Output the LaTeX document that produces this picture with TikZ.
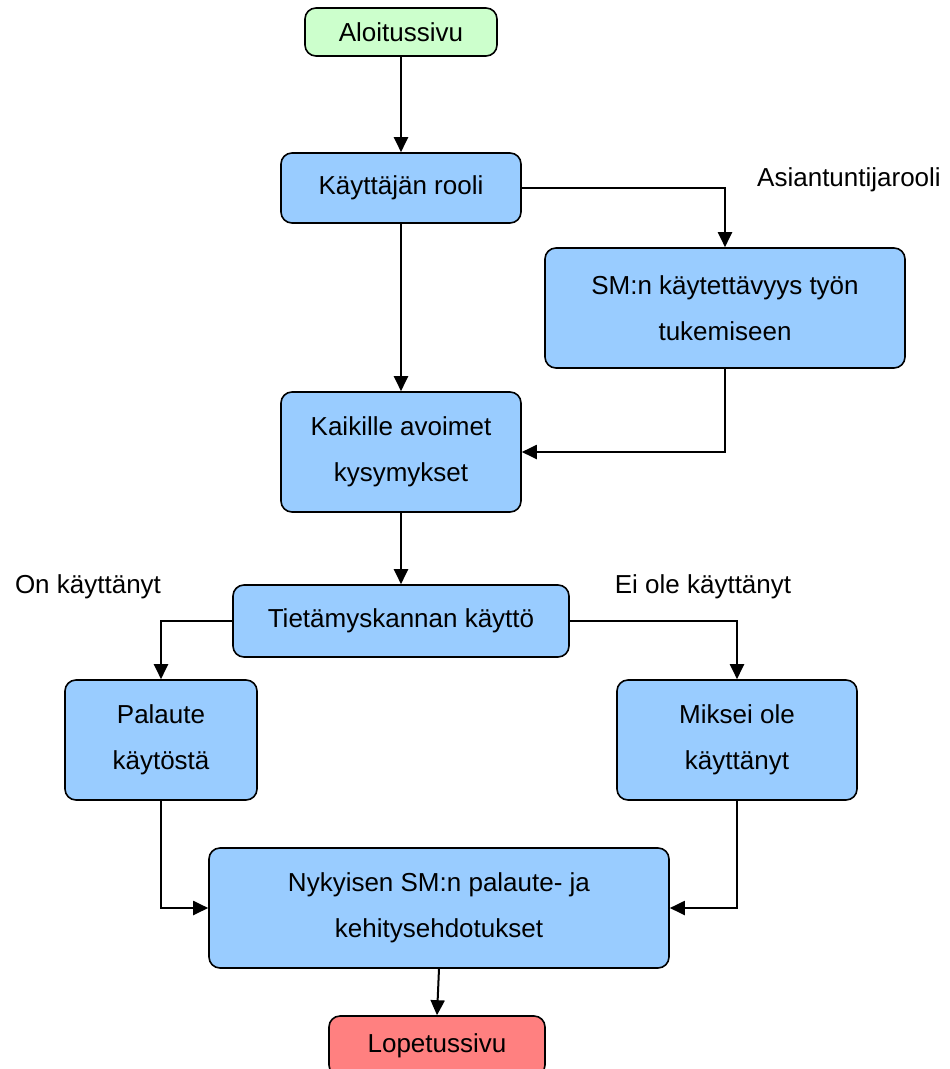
\documentclass[tikz,border=0pt]{standalone}
\usepackage{fontspec}
\setmainfont{Liberation Sans}
\usetikzlibrary{arrows.meta,positioning}
\definecolor{boxblue}{HTML}{99CCFF}
\definecolor{boxgreen}{HTML}{CCFFCC}
\definecolor{boxred}{HTML}{FF8080}
\begin{document}
\begin{tikzpicture}[x=1pt,y=-1pt,box/.style={draw,line width=1.6pt,rounded corners=11pt,fill=boxblue,align=center,font=\fontsize{26}{46}\selectfont,inner sep=0pt},lbl/.style={font=\fontsize{26}{30}\selectfont,inner sep=0pt},>={Triangle[length=15pt,width=14pt]}]
\useasboundingbox (0,0) rectangle (950,1069);
\node[box,fill=boxgreen,minimum width=192pt,minimum height=48pt] (start) at (401,32) {Aloitussivu};
\node[box,minimum width=240pt,minimum height=70pt] (rooli) at (401,188) {Käyttäjän rooli};
\node[box,minimum width=360pt,minimum height=120pt] (smn) at (725,308) {SM:n käytettävyys työn\\tukemiseen};
\node[box,minimum width=240pt,minimum height=120pt] (kaikille) at (401,452) {Kaikille avoimet\\kysymykset};
\node[box,minimum width=336pt,minimum height=72pt] (tieto) at (401,621) {Tietämyskannan käyttö};
\node[box,minimum width=192pt,minimum height=120pt] (palaute) at (161,740) {Palaute\\käytöstä};
\node[box,minimum width=240pt,minimum height=120pt] (miksei) at (737,740) {Miksei ole\\käyttänyt};
\node[box,minimum width=460pt,minimum height=120pt] (nyk) at (439,908) {Nykyisen SM:n palaute- ja\\kehitysehdotukset};
\node[box,fill=boxred,minimum width=216pt,minimum height=60pt] (loppu) at (437,1046) {Lopetussivu};
\node[lbl] (asiantuntija) at (849,180) {Asiantuntijarooli};
\node[lbl] (onkaytt) at (88,587) {On käyttänyt};
\node[lbl] (eikaytt) at (703,587) {Ei ole käyttänyt};
\begin{scope}[line width=2pt]
\draw[->] (start)--(rooli);
\draw[->] (rooli.east)-|(smn.north);
\draw[->] (rooli)--(kaikille);
\draw[->] (smn.south)|-(kaikille.east);
\draw[->] (kaikille)--(tieto);
\draw[->] (tieto.west)-|(palaute.north);
\draw[->] (tieto.east)-|(miksei.north);
\draw[->] (palaute.south)|-(nyk.west);
\draw[->] (miksei.south)|-(nyk.east);
\draw[->] (nyk.south)--(loppu.north);
\end{scope}
\end{tikzpicture}
\end{document}
